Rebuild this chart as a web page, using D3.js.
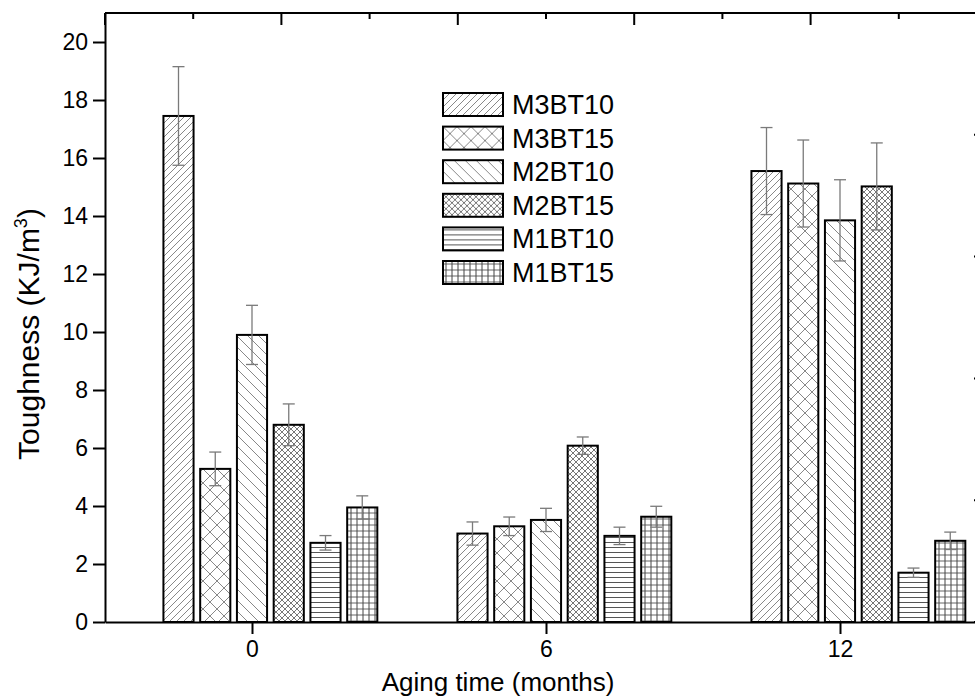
<!DOCTYPE html>
<html>
<head>
<meta charset="utf-8">
<script src="https://cdn.jsdelivr.net/npm/d3@7"></script>
<style>
  body { margin: 0; background: #fff; }
  text { font-family: "Liberation Sans", Arial, sans-serif; }
</style>
</head>
<body>
<div id="chart"></div>
<script>
const months = [0, 6, 12];
const seriesNames = ["M3BT10", "M3BT15", "M2BT10", "M2BT15", "M1BT10", "M1BT15"];

// toughness per series, one value per aging time
const M3BT10 = [17.45, 3.05, 15.55];
const M3BT15 = [5.28, 3.30, 15.12];
const M2BT10 = [9.90, 3.52, 13.85];
const M2BT15 = [6.80, 6.08, 15.02];
const M1BT10 = [2.73, 2.97, 1.70];
const M1BT15 = [3.95, 3.63, 2.80];

// error bar half widths
const M3BT10_err = [1.70, 0.40, 1.50];
const M3BT15_err = [0.58, 0.32, 1.50];
const M2BT10_err = [1.02, 0.40, 1.40];
const M2BT15_err = [0.72, 0.30, 1.50];
const M1BT10_err = [0.25, 0.30, 0.16];
const M1BT15_err = [0.40, 0.36, 0.30];

const yTicks = [0, 2, 4, 6, 8, 10, 12, 14, 16, 18, 20];

const values = [M3BT10, M3BT15, M2BT10, M2BT15, M1BT10, M1BT15];
const errors = [M3BT10_err, M3BT15_err, M2BT10_err, M2BT15_err, M1BT10_err, M1BT15_err];

let rows = [];
seriesNames.forEach((name, i) => {
  months.forEach((m, j) => {
    rows.push({ name: name, month: m, value: values[i][j], err: errors[i][j] });
  });
});

const width = 975;
const height = 700;
const plotLeft = 105, plotRight = 987, plotTop = 13, plotBottom = 622;

const svg = d3.select("#chart")
  .append("svg")
  .attr("width", width)
  .attr("height", height);

// hatch patterns, one per series
const defs = svg.append("defs");
function pattern(id, size, draw) {
  let p = defs.append("pattern")
    .attr("id", id)
    .attr("patternUnits", "userSpaceOnUse")
    .attr("width", size)
    .attr("height", size);
  p.append("rect").attr("width", size).attr("height", size).attr("fill", "#fff");
  draw(p, size);
}
function line(p, x1, y1, x2, y2, color, w) {
  p.append("line")
    .attr("x1", x1).attr("y1", y1).attr("x2", x2).attr("y2", y2)
    .attr("stroke", color).attr("stroke-width", w);
}

pattern("p0", 7, (p, s) => {
  line(p, 0, s, s, 0, "#888", 1);
  line(p, -1, 1, 1, -1, "#888", 1);
  line(p, s - 1, s + 1, s + 1, s - 1, "#888", 1);
});
pattern("p1", 14, (p, s) => {
  line(p, 0, 0, s, s, "#888", 1);
  line(p, 0, s, s, 0, "#888", 1);
});
pattern("p2", 11, (p, s) => {
  line(p, 0, 0, s, s, "#888", 1);
  line(p, -1, s - 1, 1, s + 1, "#888", 1);
  line(p, s - 1, -1, s + 1, 1, "#888", 1);
});
pattern("p3", 6, (p, s) => {
  line(p, 0, 0, s, s, "#777", 1);
  line(p, 0, s, s, 0, "#777", 1);
});
pattern("p4", 5, (p, s) => {
  line(p, 0, 2.5, s, 2.5, "#555", 1);
});
pattern("p5", 6, (p, s) => {
  line(p, 0, 3, s, 3, "#666", 1);
  line(p, 3, 0, 3, s, "#444", 1);
});

let x = d3.scaleLinear().domain([-3, 15]).range([plotLeft, plotRight]);
let y = d3.scaleLinear().domain([0, 21]).range([plotBottom, plotTop]);

const barStep = 36.75;
let xSub = d3.scaleBand()
  .domain(seriesNames)
  .range([0, barStep * seriesNames.length])
  .paddingInner(0.18)
  .paddingOuter(0.09);

function barX(d) {
  return x(d.month) - barStep * 2.5 + xSub(d.name);
}

// bars
svg.append("g")
  .selectAll("rect")
  .data(rows)
  .join("rect")
  .attr("x", d => barX(d))
  .attr("y", d => y(d.value))
  .attr("width", xSub.bandwidth())
  .attr("height", d => y(0) - y(d.value))
  .attr("fill", d => "url(#p" + seriesNames.indexOf(d.name) + ")")
  .attr("stroke", "#000")
  .attr("stroke-width", 2);

// error bars
const errG = svg.append("g")
  .attr("stroke", "#7a7a7a")
  .attr("stroke-width", 1.3);
rows.forEach(d => {
  let cx = barX(d) + xSub.bandwidth() / 2;
  let y1 = y(d.value + d.err), y2 = y(d.value - d.err);
  errG.append("line").attr("x1", cx).attr("x2", cx).attr("y1", y1).attr("y2", y2);
  errG.append("line").attr("x1", cx - 6).attr("x2", cx + 6).attr("y1", y1).attr("y2", y1);
  errG.append("line").attr("x1", cx - 6).attr("x2", cx + 6).attr("y1", y2).attr("y2", y2);
});

// axes
svg.append("g")
  .attr("transform", `translate(0,${plotBottom})`)
  .call(d3.axisBottom(x).tickValues(months).tickSize(12).tickPadding(7).tickSizeOuter(0))
  .call(g => g.select(".domain").attr("stroke-width", 2))
  .call(g => g.selectAll(".tick line").attr("stroke-width", 2))
  .call(g => g.selectAll("text").attr("font-size", 23).attr("font-family", "Liberation Sans, Arial, sans-serif"));

svg.append("g")
  .attr("transform", `translate(${plotLeft},0)`)
  .call(d3.axisLeft(y).tickValues(yTicks).tickSize(12).tickPadding(5).tickSizeOuter(0))
  .call(g => g.select(".domain").attr("stroke-width", 2))
  .call(g => g.selectAll(".tick line").attr("stroke-width", 2))
  .call(g => g.selectAll("text").attr("font-size", 23).attr("font-family", "Liberation Sans, Arial, sans-serif"));

// top axis (Origin default divisions, no labels)
let topTicks = d3.range(0, 11).map(k => -3 + k * 1.8);
svg.append("line")
  .attr("x1", plotLeft).attr("x2", plotRight).attr("y1", plotTop).attr("y2", plotTop)
  .attr("stroke", "#000").attr("stroke-width", 2);
svg.append("g")
  .selectAll("line")
  .data(topTicks)
  .join("line")
  .attr("x1", d => x(d)).attr("x2", d => x(d))
  .attr("y1", plotTop)
  .attr("y2", (d, i) => plotTop + (i % 2 === 0 ? 12 : 6))
  .attr("stroke", "#000").attr("stroke-width", 2);

// right axis sits just past the window edge
svg.append("line")
  .attr("x1", plotRight).attr("x2", plotRight).attr("y1", plotTop).attr("y2", plotBottom)
  .attr("stroke", "#000").attr("stroke-width", 2);
let rightTicks = d3.range(0, 6).map(k => plotTop + k * (plotBottom - plotTop) / 5);
svg.append("g")
  .selectAll("line")
  .data(rightTicks)
  .join("line")
  .attr("x1", plotRight - 13).attr("x2", plotRight)
  .attr("y1", d => d).attr("y2", d => d)
  .attr("stroke", "#000").attr("stroke-width", 2);

// axis titles
svg.append("text")
  .attr("x", 498)
  .attr("y", 691)
  .attr("text-anchor", "middle")
  .attr("font-size", 26)
  .text("Aging time (months)");

let yTitle = svg.append("text")
  .attr("transform", "translate(39,334) rotate(-90)")
  .attr("text-anchor", "middle")
  .attr("font-size", 30);
yTitle.append("tspan").text("Toughness (KJ/m");
yTitle.append("tspan").attr("font-size", 18).attr("dy", -12).text("3");
yTitle.append("tspan").attr("dy", 12).text(")");

// legend
const legend = svg.append("g").attr("transform", "translate(443,93)");
let item = legend.selectAll("g")
  .data(seriesNames)
  .join("g")
  .attr("transform", (d, i) => `translate(0,${i * 33.6})`);
item.append("rect")
  .attr("width", 60)
  .attr("height", 23)
  .attr("fill", (d, i) => "url(#p" + i + ")")
  .attr("stroke", "#000")
  .attr("stroke-width", 2);
item.append("text")
  .attr("x", 69)
  .attr("y", 21)
  .attr("font-size", 27)
  .text(d => d);
</script>
</body>
</html>
